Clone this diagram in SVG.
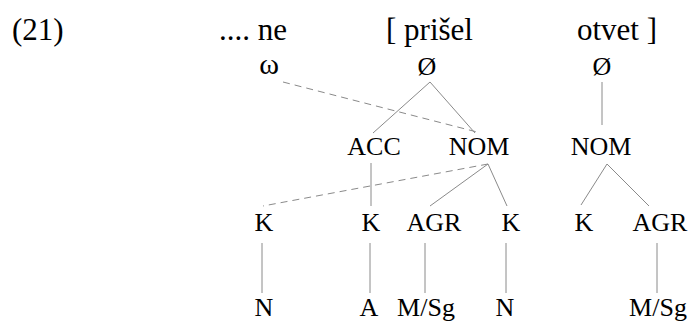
<svg xmlns="http://www.w3.org/2000/svg" width="691" height="321" viewBox="0 0 691 321" font-family="'Liberation Serif', 'Times New Roman', serif">
<style>
text{font-family:'Liberation Serif','Times New Roman',serif;fill:#000;text-anchor:middle}
.h{font-size:31px}
.n{font-size:26px}
.w{font-size:30px}
.l{stroke:#8a8a8a;stroke-width:1;fill:none}
.d{stroke:#8a8a8a;stroke-width:1;fill:none;stroke-dasharray:7,5}
</style>
<rect width="691" height="321" fill="#fff"/>
<g id="words">
<text class="h" x="12" y="40" style="text-anchor:start">(21)</text>
<text class="h" x="219" y="40" style="text-anchor:start">.... ne</text>
<text class="h" x="386" y="40" style="text-anchor:start">[ prišel</text>
<text class="h" x="577" y="40" style="text-anchor:start">otvet ]</text>
</g>
<g id="omega"><text class="w" x="269" y="74">ω</text></g>
<g id="null1"><text class="n" x="427" y="75">Ø</text></g>
<g id="null2"><text class="n" x="602" y="75">Ø</text></g>
<g id="acc"><text class="n" x="374" y="155">ACC</text></g>
<g id="nom1"><text class="n" x="479" y="155">NOM</text></g>
<g id="nom2"><text class="n" x="601" y="155">NOM</text></g>
<g id="k1"><text class="n" x="264" y="231">K</text></g>
<g id="k2"><text class="n" x="371" y="231">K</text></g>
<g id="agr1"><text class="n" x="434" y="231">AGR</text></g>
<g id="k3"><text class="n" x="511" y="231">K</text></g>
<g id="k4"><text class="n" x="584" y="231">K</text></g>
<g id="agr2"><text class="n" x="660" y="231">AGR</text></g>
<g id="n1"><text class="n" x="264" y="316">N</text></g>
<g id="a1"><text class="n" x="369" y="316">A</text></g>
<g id="msg1"><text class="n" x="426" y="316">M/Sg</text></g>
<g id="n2"><text class="n" x="505" y="316">N</text></g>
<g id="msg2"><text class="n" x="658" y="316">M/Sg</text></g>
<g id="connectors">
<line class="d" x1="283" y1="82" x2="477" y2="132"/>
<line class="l" x1="430" y1="82" x2="373" y2="133"/>
<line class="l" x1="430" y1="82" x2="475" y2="133"/>
<line class="l" x1="602" y1="82" x2="602" y2="125"/>
<line class="l" x1="371" y1="163" x2="371" y2="206"/>
<line class="d" x1="488" y1="164" x2="263" y2="206"/>
<line class="l" x1="488" y1="164" x2="430" y2="206"/>
<line class="l" x1="488" y1="164" x2="507" y2="206"/>
<line class="l" x1="607" y1="164" x2="581" y2="205"/>
<line class="l" x1="607" y1="164" x2="649" y2="206"/>
<line class="l" x1="262" y1="243" x2="262" y2="293"/>
<line class="l" x1="370" y1="243" x2="370" y2="293"/>
<line class="l" x1="425" y1="243" x2="425" y2="293"/>
<line class="l" x1="506" y1="243" x2="506" y2="293"/>
<line class="l" x1="657" y1="243" x2="657" y2="293"/>
</g>
</svg>
